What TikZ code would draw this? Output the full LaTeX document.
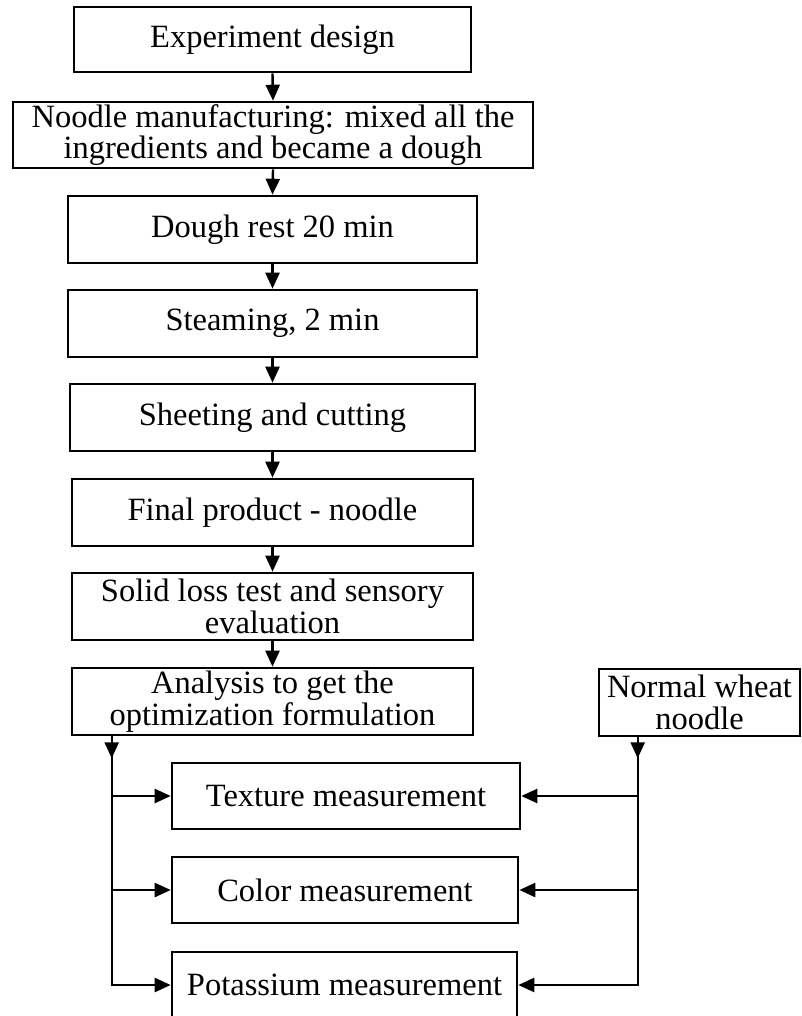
\documentclass[tikz,border=0pt]{standalone}
\usepackage{fontspec}
\setmainfont{Liberation Serif}
\usetikzlibrary{arrows.meta,calc}
\begin{document}
\begin{tikzpicture}[x=1pt,y=-1pt,
  box/.style={draw,line width=2.6pt,rectangle,align=center,inner sep=0pt,
    font=\fontsize{32.5}{31.5}\selectfont},
  arr/.style={line width=2.4pt,-{Triangle[length=16pt,width=14pt]}}]
\useasboundingbox (0,0) rectangle (802,1016);
\node[box,minimum width=397,minimum height=65] (b1) at (272.5,39.5) {Experiment design};
\node[box,minimum width=520,minimum height=66] (b2) at (273,135) {Noodle manufacturing: mixed all the\\ingredients and became a dough};
\node[box,minimum width=409,minimum height=67] (b3) at (272.5,229.5) {Dough rest 20 min};
\node[box,minimum width=409,minimum height=67] (b4) at (272.5,323.5) {Steaming, 2 min};
\node[box,minimum width=405,minimum height=67] (b5) at (272.5,417.5) {Sheeting and cutting};
\node[box,minimum width=401,minimum height=67] (b6) at (272.5,512.5) {Final product - noodle};
\node[box,minimum width=401,minimum height=67] (b7) at (272.5,606.5) {Solid loss test and sensory\\evaluation};
\node[box,minimum width=401,minimum height=67] (ana) at (272.5,701.5) {Analysis to get the\\optimization formulation};
\node[box,minimum width=201,minimum height=67] (nw) at (699.5,702.5) {Normal wheat\\noodle};
\node[box,minimum width=348,minimum height=66] (tex) at (346,796) {Texture measurement};
\node[box,minimum width=346,minimum height=66] (col) at (345,890) {Color measurement};
\node[box,minimum width=345,minimum height=66] (pot) at (344.5,985) {Potassium measurement};
\foreach \a/\b in {b1/b2,b2/b3,b3/b4,b4/b5,b5/b6,b6/b7,b7/ana}
  \draw[arr] (\a.south) -- (\b.north);
\coordinate (L0) at ($(ana.south west)+(41,0)$);
\coordinate (R0) at ($(nw.south west)+(40,0)$);
\draw[arr] (L0) -- ++(0,22);
\draw[arr] (L0) |- (pot.west);
\draw[arr] (L0 |- tex.west) -- (tex.west);
\draw[arr] (L0 |- col.west) -- (col.west);
\draw[arr] (R0) -- ++(0,21);
\draw[arr] (R0) |- (pot.east);
\draw[arr] (R0 |- tex.east) -- (tex.east);
\draw[arr] (R0 |- col.east) -- (col.east);
\end{tikzpicture}
\end{document}
